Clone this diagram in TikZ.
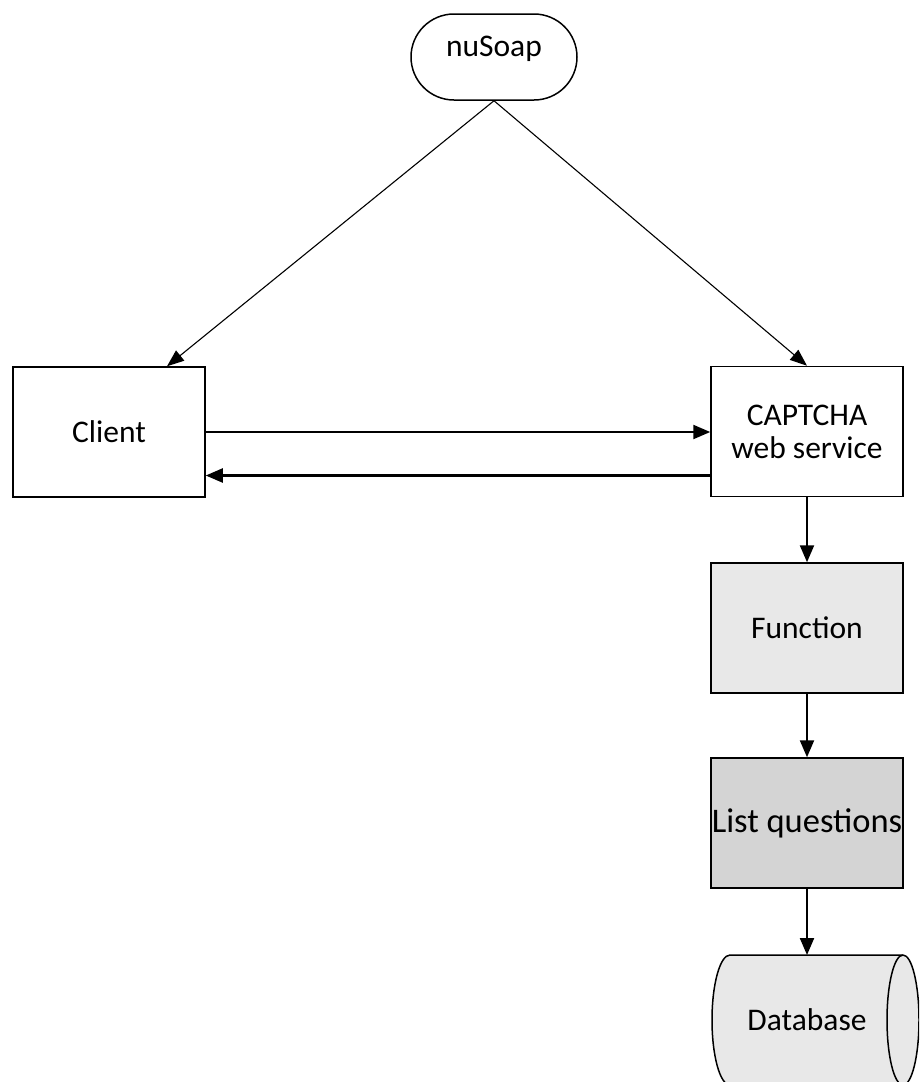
\documentclass[tikz,border=0pt]{standalone}
\usepackage{fontspec}
\setmainfont{Carlito}
\usetikzlibrary{arrows.meta,shapes.misc}
\begin{document}
\begin{tikzpicture}[x=1pt,y=-1pt,
  every node/.style={font=\fontsize{31.5}{35}\selectfont, align=center},
  box/.style={draw, line width=1.5pt, minimum width=192pt, minimum height=130pt, inner sep=0pt},
  thin link/.style={line width=1.1pt, -{Triangle[length=17pt,width=13pt]}},
  thick link/.style={line width=2.2pt, -{Triangle[length=17pt,width=14pt]}}]
\useasboundingbox (0,0) rectangle (919,1082);
\clip (0,0) rectangle (919,1082);
\fill[white] (0,0) rectangle (919,1082);

% top library node
\node[draw, rounded rectangle, line width=1.5pt, minimum width=166pt, minimum height=86pt, inner sep=0pt]
  (nusoap) at (494,57) {\raisebox{21pt}{nuSoap}};

% client and service
\node[box] (client) at (109,432) {Client};
\node[box] (cap) at (807,431.5) {CAPTCHA\\[-2pt]web service};

% processing chain
\node[box, fill=black!9] (func) at (807,628) {Function};
\node[box, fill=black!17, font=\fontsize{34.5}{38}\selectfont] (list) at (807,823) {List questions};

% database drum, lying on its side
\filldraw[fill=black!9, line width=1.5pt]
  (730,955) -- (903,955)
  arc[start angle=90, end angle=-90, x radius=16pt, y radius=65pt]
  -- (730,1085)
  arc[start angle=-90, end angle=-270, x radius=18pt, y radius=65pt] -- cycle;
\draw[line width=1.5pt] (903,955) arc[start angle=90, end angle=270, x radius=16pt, y radius=65pt];
\node (db) at (807,1020) {Database};
\coordinate (dbtop) at (807,955);

% connectors
\draw[thin link] (nusoap.south) -- ([xshift=58pt]client.north);
\draw[thin link] (nusoap.south) -- (cap.north);
\draw[thick link] (client.east) -- (client.east -| cap.west);
\draw[thick link] ([yshift=-44pt]cap.west) -- ([yshift=-44pt]cap.west -| client.east);
\draw[thick link] (cap.south) -- (func.north);
\draw[thick link] (func.south) -- (list.north);
\draw[thick link] (list.south) -- (dbtop);
\end{tikzpicture}
\end{document}
